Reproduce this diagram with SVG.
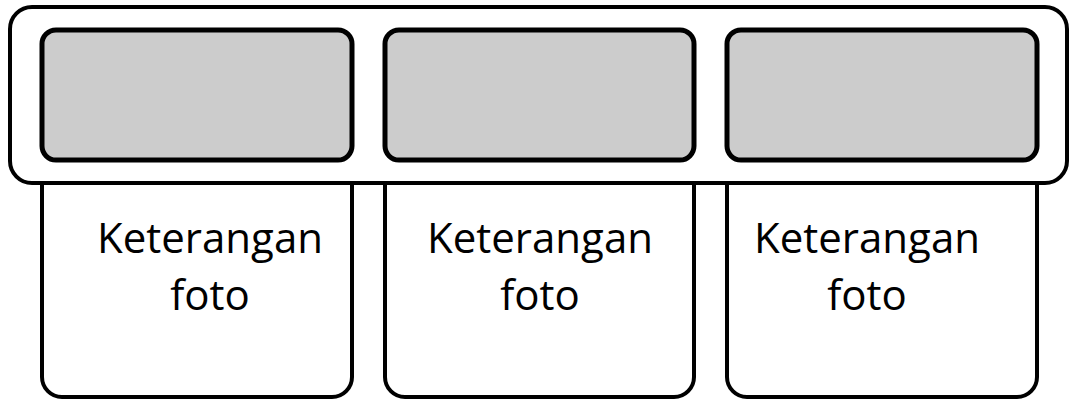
<svg xmlns="http://www.w3.org/2000/svg" width="1070" height="401" viewBox="0 0 1070 401">
<style>
.cap{fill:#fff;stroke:#000;stroke-width:4}
.frame{fill:#fff;stroke:#000;stroke-width:4}
.photo{fill:#cccccc;stroke:#000;stroke-width:5}
.t{font-family:"Open Sans","Noto Sans",sans-serif;font-size:42px;fill:#000;text-anchor:middle}
</style>
<rect width="1070" height="401" fill="#fff"/>
<g id="caption1"><rect class="cap" x="42" y="150" width="310" height="247" rx="20"/></g>
<g id="caption2"><rect class="cap" x="385" y="150" width="309" height="247" rx="20"/></g>
<g id="caption3"><rect class="cap" x="727" y="150" width="310" height="247" rx="20"/></g>
<g id="frame"><rect class="frame" x="10" y="7" width="1057" height="176" rx="22"/></g>
<g id="photo1"><rect class="photo" x="42" y="30" width="310" height="130" rx="14"/></g>
<g id="photo2"><rect class="photo" x="385" y="30" width="309" height="130" rx="14"/></g>
<g id="photo3"><rect class="photo" x="727" y="30" width="310" height="130" rx="14"/></g>
<g id="label1"><text class="t" x="210" y="253">Keterangan</text><text class="t" x="210" y="310">foto</text></g>
<g id="label2"><text class="t" x="540" y="253">Keterangan</text><text class="t" x="540" y="310">foto</text></g>
<g id="label3"><text class="t" x="867" y="253">Keterangan</text><text class="t" x="867" y="310">foto</text></g>
<g id="connectors"></g>
</svg>
